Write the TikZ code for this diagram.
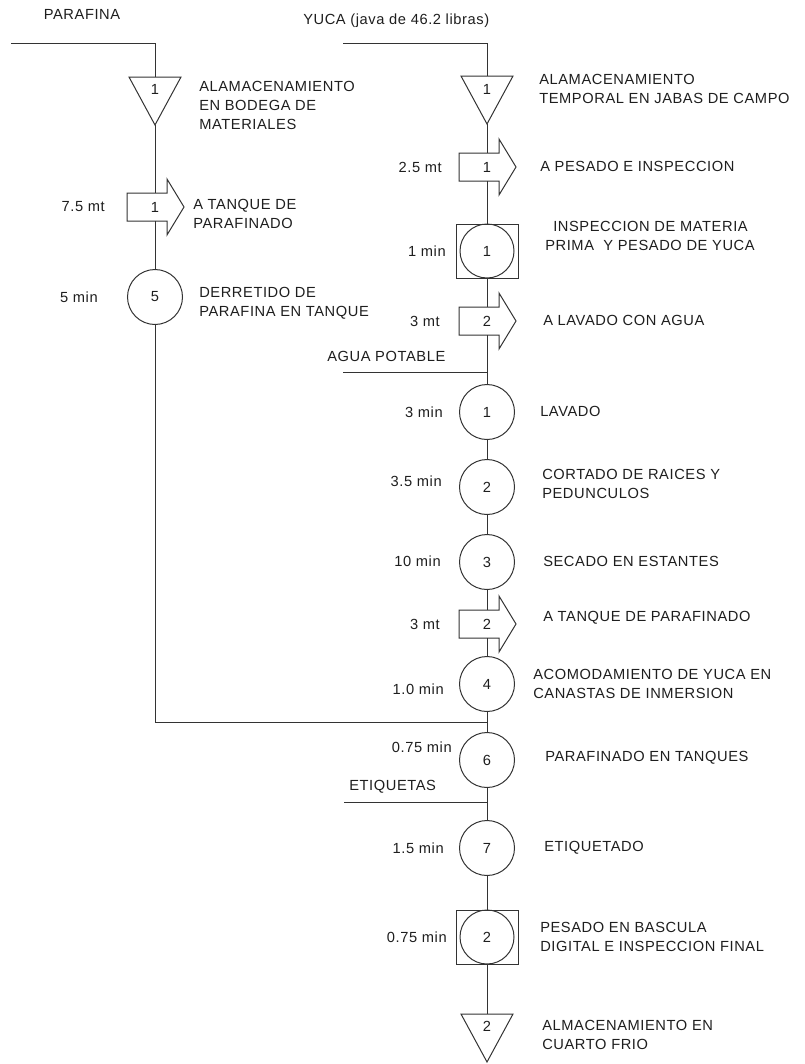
\documentclass[tikz,border=0pt]{standalone}
\usepackage{fontspec}
\setmainfont[LetterSpace=4]{Liberation Sans}
\definecolor{ln}{HTML}{333333}
\definecolor{tx}{HTML}{1E1E1E}
\begin{document}
\begin{tikzpicture}[x=0.75pt,y=-0.75pt]
\tikzset{
 fnt/.style={font=\fontsize{11}{14.25}\selectfont, text=tx},
 lbl/.style={fnt, anchor=west, align=left, inner sep=0pt},
 tm/.style={fnt, anchor=east, inner sep=0pt},
 num/.style={fnt, inner sep=0pt},
 opc/.style={fnt, circle, draw=ln, line width=0.75pt, minimum size=41.25pt, inner sep=0pt},
 insq/.style={rectangle, draw=ln, line width=0.75pt, minimum width=46.5pt, minimum height=40.5pt, inner sep=0pt},
 insc/.style={fnt, circle, draw=ln, line width=0.75pt, minimum size=40.5pt, inner sep=0pt},
 trbox/.style={fnt, inner sep=0pt, minimum height=21pt},
 stbox/.style={inner sep=0pt, minimum width=39pt, minimum height=36pt},
 conn/.style={draw=ln, line width=0.75pt},
 transp/.pic={\draw[conn] (-28,-14) -- (12,-14) -- (12,-28) -- (29,0) -- (12,28) -- (12,14) -- (-28,14) -- cycle;},
 storetri/.pic={\draw[conn] (-26,-24) -- (26,-24) -- (0,24) -- cycle;},
}
\useasboundingbox (0,0) rectangle (805,1064);

% ---------- right column (YUCA) ----------
\node[stbox] (t1) at (487,100) {};
\pic at (t1) {storetri};
\node[num] (t1n) at (487,89) {1};

\node[trbox] (a1) at (487,167) {};
\pic at (a1) {transp};
\node[num] (a1n) at (487,167) {1};

\node[insq] (i1) at (487,251) {};
\node[insc] (i1c) at (487,251) {1};

\node[trbox] (a2) at (487,321) {};
\pic at (a2) {transp};
\node[num] (a2n) at (487,321) {2};

\node[opc] (o1) at (487,412) {1};
\node[opc] (o2) at (487,487) {2};
\node[opc] (o3) at (487,562) {3};

\node[trbox] (a3) at (487,624) {};
\pic at (a3) {transp};
\node[num] (a3n) at (487,624) {2};

\node[opc] (o4) at (487,684) {4};
\node[opc] (o6) at (487,760) {6};
\node[opc] (o7) at (487,848) {7};

\node[insq] (i2) at (487,937) {};
\node[insc] (i2c) at (487,937) {2};

\node[stbox] (t2) at (487,1038) {};
\pic at (t2) {storetri};
\node[num] (t2n) at (487,1026) {2};

% ---------- left column (PARAFINA) ----------
\node[stbox] (lt1) at (155,101) {};
\pic at (lt1) {storetri};
\node[num] (lt1n) at (155,89) {1};

\node[trbox] (la1) at (155,207) {};
\pic at (la1) {transp};
\node[num] (la1n) at (155,207) {1};

\node[opc] (o5) at (155,297) {5};

% ---------- coordinates ----------
\coordinate (yin) at (343,43);
\coordinate (yc) at (487,43);
\coordinate (pin) at (11,43);
\coordinate (pc) at (155,43);
\coordinate (agua) at (343,372);
\coordinate (aj) at (487,372);
\coordinate (lj) at (155,722);
\coordinate (pj) at (487,722);
\coordinate (etq) at (344,802);
\coordinate (ej) at (487,802);

% ---------- connectors ----------
\draw[conn] (yin) -- (yc) -- (t1.north);
\draw[conn] (t1.south) -- (a1.north);
\draw[conn] (a1.south) -- (i1.north);
\draw[conn] (i1.south) -- (a2.north);
\draw[conn] (a2.south) -- (o1.north);
\draw[conn] (agua) -- (aj);
\draw[conn] (o1.south) -- (o2.north);
\draw[conn] (o2.south) -- (o3.north);
\draw[conn] (o3.south) -- (a3.north);
\draw[conn] (a3.south) -- (o4.north);
\draw[conn] (o4.south) -- (o6.north);
\draw[conn] (o6.south) -- (o7.north);
\draw[conn] (etq) -- (ej);
\draw[conn] (o7.south) -- (i2.north);
\draw[conn] (i2.south) -- (t2.north);

\draw[conn] (pin) -- (pc) -- (lt1.north);
\draw[conn] (lt1.south) -- (la1.north);
\draw[conn] (la1.south) -- (o5.north);
\draw[conn] (o5.south) -- (lj) -- (pj);

% ---------- texts ----------
\node[fnt, inner sep=0pt] (tparaf) at (82,14) {PARAFINA};
\node[lbl] (tyuca) at (303,21) {YUCA (java de 46.2 libras)};

\node[lbl] (d1) at (199,105) {ALAMACENAMIENTO\\EN BODEGA DE\\MATERIALES};
\node[tm] (m1) at (105,207) {7.5 mt};
\node[lbl] (d2) at (193,213.5) {A TANQUE DE\\PARAFINADO};
\node[tm] (m2) at (98,297) {5 min};
\node[lbl] (d3) at (199,303.5) {DERRETIDO DE\\PARAFINA EN TANQUE};

\node[lbl] (r1) at (539,89) {ALAMACENAMIENTO\\TEMPORAL EN JABAS DE CAMPO};
\node[tm] (k1) at (442,167) {2.5 mt};
\node[lbl] (r2) at (540,166) {A PESADO E INSPECCION};
\node[tm] (k2) at (446,251) {1 min};
\node[lbl] (r3) at (545,236) {\hspace*{6pt}INSPECCION DE MATERIA\\PRIMA \ Y PESADO DE YUCA};
\node[tm] (k3) at (440,321) {3 mt};
\node[lbl] (r4) at (543,320) {A LAVADO CON AGUA};
\node[lbl] (tagua) at (327,356) {AGUA POTABLE};
\node[tm] (k4) at (443,412) {3 min};
\node[lbl] (r5) at (540,411) {LAVADO};
\node[tm] (k5) at (442,481) {3.5 min};
\node[lbl] (r6) at (542,483.5) {CORTADO DE RAICES Y\\PEDUNCULOS};
\node[tm] (k6) at (441,561) {10 min};
\node[lbl] (r7) at (543,561) {SECADO EN ESTANTES};
\node[tm] (k7) at (440,624) {3 mt};
\node[lbl] (r8) at (543,618) {A TANQUE DE PARAFINADO};
\node[tm] (k8) at (444,689) {1.0 min};
\node[lbl] (r9) at (533,683.5) {ACOMODAMIENTO DE YUCA EN\\CANASTAS DE INMERSION};
\node[tm] (k9) at (452,747) {0.75 min};
\node[lbl] (r10) at (545,758) {PARAFINADO EN TANQUES};
\node[lbl] (tetq) at (349,787) {ETIQUETAS};
\node[tm] (k10) at (444,848) {1.5 min};
\node[lbl] (r11) at (544,848) {ETIQUETADO};
\node[tm] (k11) at (447,937) {0.75 min};
\node[lbl] (r12) at (540,937) {PESADO EN BASCULA\\DIGITAL E INSPECCION FINAL};
\node[lbl] (r13) at (542,1034.5) {ALMACENAMIENTO EN\\CUARTO FRIO};
\end{tikzpicture}
\end{document}
